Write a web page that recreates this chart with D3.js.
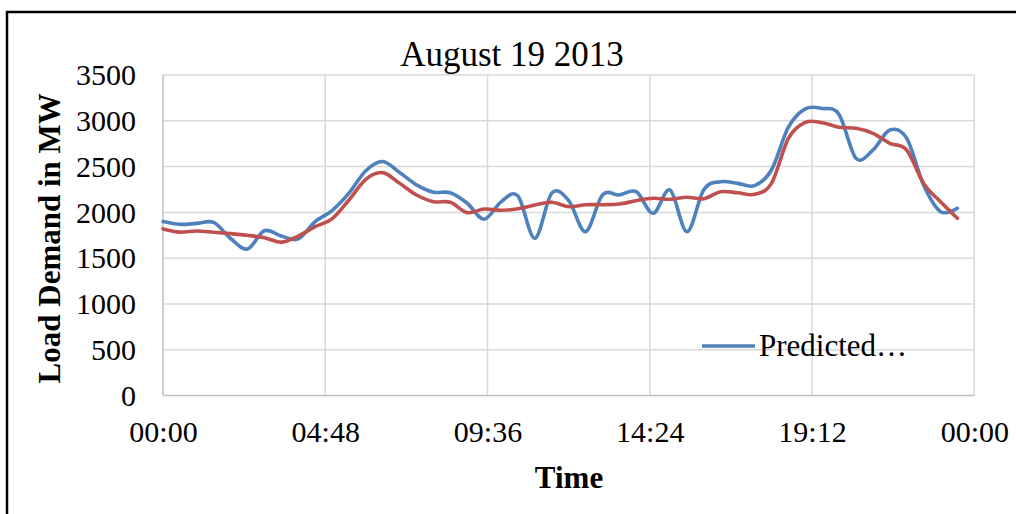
<!DOCTYPE html>
<html>
<head>
<meta charset="utf-8">
<script src="https://cdn.jsdelivr.net/npm/d3@7"></script>
<style>
  html, body { margin: 0; padding: 0; background: #fff; }
  svg { display: block; }
  text { font-family: "Liberation Serif", "Times New Roman", serif; fill: #000; }
</style>
</head>
<body>
<svg id="chart" width="1016" height="514"></svg>
<script>
// Half-hourly load on August 19 2013 (MW)
const times = [
  "00:00","00:30","01:00","01:30","02:00","02:30","03:00","03:30",
  "04:00","04:30","05:00","05:30","06:00","06:30","07:00","07:30",
  "08:00","08:30","09:00","09:30","10:00","10:30","11:00","11:30",
  "12:00","12:30","13:00","13:30","14:00","14:30","15:00","15:30",
  "16:00","16:30","17:00","17:30","18:00","18:30","19:00","19:30",
  "20:00","20:30","21:00","21:30","22:00","22:30","23:00","23:30"
];
const predicted = [
  1900, 1870, 1880, 1890, 1715, 1600, 1800, 1742,
  1710, 1900, 2020, 2210, 2455, 2555, 2435, 2300,
  2220, 2215, 2100, 1925, 2115, 2180, 1717, 2210,
  2130, 1790, 2190, 2190, 2226, 1990, 2245, 1790,
  2250, 2335, 2317, 2292, 2463, 2930, 3130, 3135,
  3070, 2590, 2681, 2900, 2809, 2299, 2008, 2045
];
const actual = [
  1820, 1785, 1797, 1783, 1768, 1750, 1724, 1675,
  1742, 1844, 1930, 2135, 2361, 2434, 2317, 2190,
  2117, 2110, 1997, 2037, 2023, 2040, 2081, 2110,
  2062, 2084, 2084, 2092, 2128, 2154, 2143, 2165,
  2150, 2226, 2215, 2197, 2317, 2809, 2984, 2979,
  2929, 2918, 2863, 2754, 2681, 2317, 2117, 1936
];
const xTickHours = [0, 4.8, 9.6, 14.4, 19.2, 24];
const xTickLabels = ["00:00", "04:48", "09:36", "14:24", "19:12", "00:00"];
const yTicks = [0, 500, 1000, 1500, 2000, 2500, 3000, 3500];

const svg = d3.select("#chart");

// outer frame
svg.append("rect")
  .attr("x", 7).attr("y", 12)
  .attr("width", 1030).attr("height", 520)
  .attr("fill", "none").attr("stroke", "#000").attr("stroke-width", 2.5);

const plot = { left: 163, right: 974.3, top: 75, bottom: 395.6 };

const hours = t => { const [h, m] = t.split(":").map(Number); return h + m / 60; };

const x = d3.scaleLinear().domain([0, 24]).range([plot.left, plot.right]);
const y = d3.scaleLinear().domain([0, 3500]).range([plot.bottom, plot.top]);

// gridlines
const grid = svg.append("g").attr("stroke", "#D9D9D9").attr("stroke-width", 1.5);
grid.selectAll("line.h").data(yTicks.filter(v => v > 0)).join("line")
  .attr("x1", plot.left).attr("x2", plot.right)
  .attr("y1", d => y(d)).attr("y2", d => y(d));
grid.selectAll("line.v").data(xTickHours.slice(1)).join("line")
  .attr("y1", plot.top).attr("y2", plot.bottom)
  .attr("x1", d => x(d)).attr("x2", d => x(d));

// axis lines
svg.append("line")
  .attr("x1", plot.left).attr("x2", plot.left)
  .attr("y1", plot.top).attr("y2", plot.bottom)
  .attr("stroke", "#BFBFBF").attr("stroke-width", 1.5);
svg.append("line")
  .attr("x1", plot.left).attr("x2", plot.right)
  .attr("y1", plot.bottom).attr("y2", plot.bottom)
  .attr("stroke", "#BFBFBF").attr("stroke-width", 1.5);

// y tick labels
const yAxis = d3.axisLeft(y).tickValues(yTicks).tickFormat(d3.format("d"))
  .tickSize(0).tickPadding(27);
const gy = svg.append("g").attr("transform", `translate(${plot.left},0)`).call(yAxis);
gy.select(".domain").remove();
gy.selectAll("text")
  .style("font-family", '"Liberation Serif", serif')
  .style("font-size", "30px").attr("fill", "#000");

// x tick labels
const xAxis = d3.axisBottom(x).tickValues(xTickHours)
  .tickFormat((d, i) => xTickLabels[i]).tickSize(0).tickPadding(25);
const gx = svg.append("g").attr("transform", `translate(0,${plot.bottom})`).call(xAxis);
gx.select(".domain").remove();
gx.selectAll("text")
  .style("font-family", '"Liberation Serif", serif')
  .style("font-size", "30px").attr("fill", "#000");

// series
const line = d3.line()
  .x((d, i) => x(hours(times[i])))
  .y(d => y(d))
  .curve(d3.curveCardinal.tension(0));

svg.append("path").datum(predicted)
  .attr("d", line).attr("fill", "none")
  .attr("stroke", "#4F81BD").attr("stroke-width", 3.6)
  .attr("stroke-linejoin", "round").attr("stroke-linecap", "round");

svg.append("path").datum(actual)
  .attr("d", line).attr("fill", "none")
  .attr("stroke", "#C0504D").attr("stroke-width", 3.6)
  .attr("stroke-linejoin", "round").attr("stroke-linecap", "round");

// title
svg.append("text")
  .attr("x", 512).attr("y", 66)
  .attr("text-anchor", "middle")
  .style("font-size", "35px")
  .text("August 19 2013");

// axis titles
svg.append("text")
  .attr("transform", `translate(60,${(plot.top + plot.bottom) / 2 + 3}) rotate(-90)`)
  .attr("text-anchor", "middle")
  .style("font-size", "31px").style("font-weight", "bold")
  .text("Load Demand in MW");

svg.append("text")
  .attr("x", 569).attr("y", 488)
  .attr("text-anchor", "middle")
  .style("font-size", "31px").style("font-weight", "bold")
  .text("Time");

// legend
const legend = svg.append("g");
legend.append("line")
  .attr("x1", 702).attr("x2", 755)
  .attr("y1", 346).attr("y2", 346)
  .attr("stroke", "#4F81BD").attr("stroke-width", 3.6);
legend.append("text")
  .attr("x", 759).attr("y", 356)
  .style("font-size", "31px")
  .text("Predicted…");
</script>
</body>
</html>
